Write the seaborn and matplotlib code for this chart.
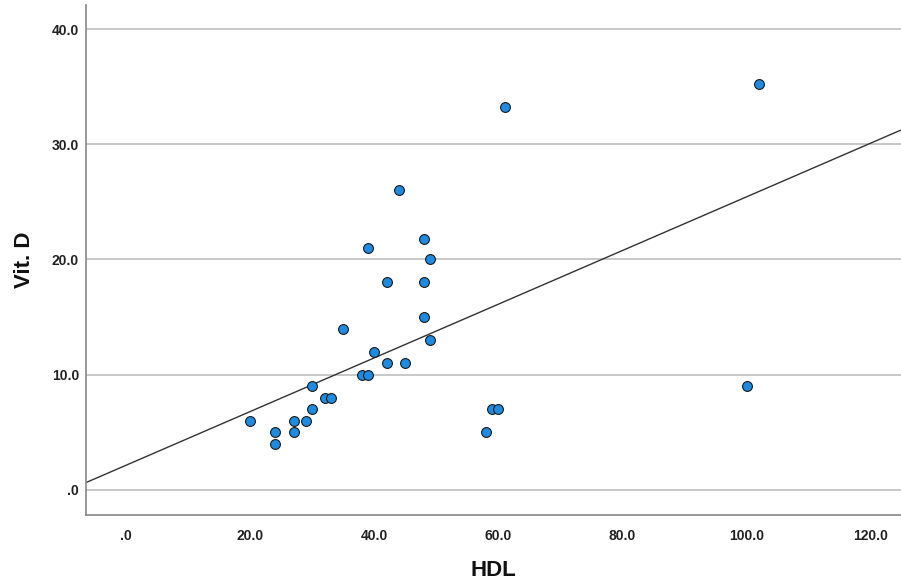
import numpy as np
import pandas as pd
import seaborn as sns
import matplotlib.pyplot as plt
from matplotlib.ticker import FuncFormatter

# HDL vs Vit. D readings
hdl = [20, 24, 24, 27, 27, 29, 30, 30, 32, 33,
       35, 38, 39, 39, 40, 42, 42, 44, 45, 48,
       49, 48, 48, 49, 59, 60, 58, 61, 100, 102]
vit_d = [6, 5, 4, 6, 5, 6, 9, 7, 8, 8,
         14, 10, 10, 21, 12, 18, 11, 26, 11, 21.8,
         20, 18, 15, 13, 7, 7, 5, 33.2, 9, 35.2]
x_ticks = [0, 20, 40, 60, 80, 100, 120]
y_ticks = [0, 10, 20, 30, 40]

# total fit line as shown in the reference (intercept, slope)
fit_intercept = 2.14
fit_slope = 0.233

df = pd.DataFrame({"HDL": hdl, "Vit. D": vit_d})

sns.set_style("white")
plt.rcParams["font.family"] = ["Liberation Sans", "DejaVu Sans"]

fig = plt.figure(figsize=(9.01, 5.88), dpi=100)
ax = fig.add_axes([0.0955, 0.124, 0.9045, 0.8675])

ax.set_xlim(-6.5, 124.9)
ax.set_ylim(-2.2, 42.1)

# grid lines behind the points
for yv in y_ticks:
    ax.axhline(yv, color="#c8c8c8", lw=1.4, zorder=0)

ax.axline((0, fit_intercept), slope=fit_slope, color="#333333", lw=1.0, zorder=2)

sns.scatterplot(data=df, x="HDL", y="Vit. D", ax=ax, s=50, color="#1e8ae0",
                edgecolor="#1a1a1a", linewidth=0.8, zorder=3)

ax.set_xticks(x_ticks)
ax.set_yticks(y_ticks)
fmt = FuncFormatter(lambda v, p: ("%.1f" % v).lstrip("0") if v == 0 else "%.1f" % v)
ax.xaxis.set_major_formatter(fmt)
ax.yaxis.set_major_formatter(fmt)
ax.tick_params(axis="both", length=0, labelsize=10, colors="#222222")
ax.tick_params(axis="x", pad=10)
ax.tick_params(axis="y", pad=5)
for lbl in ax.get_xticklabels() + ax.get_yticklabels():
    lbl.set_fontweight("bold")

ax.set_xlabel("HDL", fontsize=16, fontweight="bold", color="#111111", labelpad=12)
ax.set_ylabel("Vit. D", fontsize=16, fontweight="bold", color="#111111", labelpad=12)

for side in ["top", "right"]:
    ax.spines[side].set_visible(False)
for side in ["left", "bottom"]:
    ax.spines[side].set_color("#888888")
    ax.spines[side].set_linewidth(1.2)

fig.savefig("out.png", dpi=100)
